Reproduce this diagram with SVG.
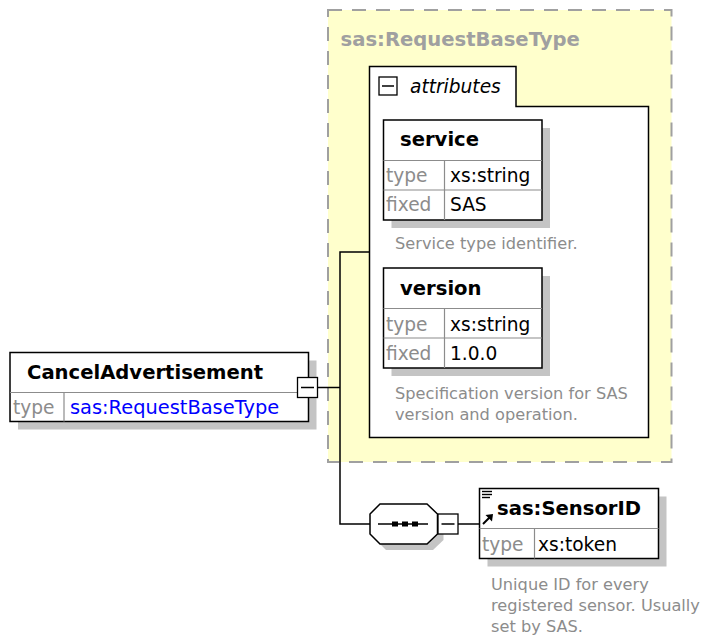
<svg xmlns="http://www.w3.org/2000/svg" width="701" height="638" viewBox="0 0 701 638">
  <defs>
    <style>
      .box { fill: #ffffff; stroke: #000000; stroke-width: 1.5; }
      .shadow { fill: #c4c4c4; }
      .div { stroke: #8c8c8c; stroke-width: 1.2; fill: none; }
      .wire { stroke: #000000; stroke-width: 1.5; fill: none; }
      .tog { fill: #ffffff; stroke: #000000; stroke-width: 1.3; }
      .hdr { font-family: "DejaVu Sans", Verdana, sans-serif; font-weight: bold; font-size: 19.6px; fill: #000000; }
      .grp { font-family: "DejaVu Sans", Verdana, sans-serif; font-weight: bold; font-size: 19.6px; fill: #a0a0a0; }
      .lbl { font-family: "DejaVu Sans", Verdana, sans-serif; font-size: 18.6px; fill: #8c8c8c; }
      .val { font-family: "DejaVu Sans", Verdana, sans-serif; font-size: 18.6px; fill: #000000; }
      .ref { font-family: "DejaVu Sans", Verdana, sans-serif; font-size: 19.4px; fill: #0000ff; }
      .doc { font-family: "DejaVu Sans", Verdana, sans-serif; font-size: 16.2px; fill: #8c8c8c; }
      .attr { font-family: "DejaVu Sans", Verdana, sans-serif; font-style: italic; font-size: 18.6px; fill: #000000; }
    </style>
  </defs>

  <rect width="701" height="638" fill="#ffffff"/>

  <!-- complex type container -->
  <g id="sas-RequestBaseType">
    <rect x="328" y="10" width="343.5" height="452" fill="#ffffcc" stroke="#a0a0a0" stroke-width="2" stroke-dasharray="14 10"/>
    <text class="grp" x="340.5" y="45.5">sas:RequestBaseType</text>
  </g>

  <!-- attributes panel -->
  <g id="attributes">
    <path class="box" d="M369.5,66.5 H516 V106.5 H648.5 V437.5 H369.5 Z"/>
    <rect class="tog" x="379" y="77" width="18" height="18"/>
    <line x1="382" y1="86" x2="394" y2="86" stroke="#000" stroke-width="1.5"/>
    <text class="attr" x="410" y="92.5">attributes</text>
  </g>

  <!-- attribute: service -->
  <g id="service">
    <rect class="shadow" x="391.5" y="128" width="158.5" height="100"/>
    <rect class="box" x="383.5" y="120" width="158.5" height="100"/>
    <line class="div" x1="383.5" y1="160.5" x2="542" y2="160.5"/>
    <line class="div" x1="383.5" y1="190" x2="542" y2="190"/>
    <line class="div" x1="444.5" y1="160.5" x2="444.5" y2="220"/>
    <text class="hdr" x="400" y="146">service</text>
    <text class="lbl" x="386" y="182">type</text>
    <text class="val" x="450" y="182">xs:string</text>
    <text class="lbl" x="386" y="211">fixed</text>
    <text class="val" x="450" y="211">SAS</text>
    <text class="doc" x="395" y="248.5">Service type identifier.</text>
  </g>

  <!-- attribute: version -->
  <g id="version">
    <rect class="shadow" x="391.5" y="276" width="158.5" height="100"/>
    <rect class="box" x="383.5" y="268" width="158.5" height="100"/>
    <line class="div" x1="383.5" y1="308.5" x2="542" y2="308.5"/>
    <line class="div" x1="383.5" y1="338" x2="542" y2="338"/>
    <line class="div" x1="444.5" y1="308.5" x2="444.5" y2="368"/>
    <text class="hdr" x="400" y="295">version</text>
    <text class="lbl" x="386" y="331">type</text>
    <text class="val" x="450" y="331">xs:string</text>
    <text class="lbl" x="386" y="360">fixed</text>
    <text class="val" x="450" y="360">1.0.0</text>
    <text class="doc" x="395" y="398.5">Specification version for SAS</text>
    <text class="doc" x="395" y="420">version and operation.</text>
  </g>

  <!-- connectors -->
  <g id="connectors">
    <polyline class="wire" points="318,387.5 340,387.5"/>
    <polyline class="wire" points="370,252 340,252 340,524 370,524"/>
    <line class="wire" x1="458" y1="524" x2="479.5" y2="524"/>
  </g>

  <!-- root element -->
  <g id="CancelAdvertisement">
    <rect class="shadow" x="18" y="360.5" width="298.5" height="69"/>
    <rect class="box" x="10" y="352.5" width="298.5" height="69"/>
    <line class="div" x1="10" y1="392.5" x2="308.5" y2="392.5"/>
    <line class="div" x1="64" y1="392.5" x2="64" y2="421.5"/>
    <text class="hdr" x="27" y="379">CancelAdvertisement</text>
    <text class="lbl" x="13" y="414">type</text>
    <text class="ref" x="70" y="414">sas:RequestBaseType</text>
    <rect class="tog" x="297.5" y="377.5" width="20" height="20"/>
    <line x1="301" y1="387.5" x2="314" y2="387.5" stroke="#000" stroke-width="1.5"/>
  </g>

  <!-- sequence compositor -->
  <g id="sequence">
    <polygon class="shadow" points="386,510 433,510 443.5,520 443.5,540 433,550 386,550 376,540 376,520"/>
    <polygon class="box" points="380,504 427,504 437.5,514 437.5,534 427,544 380,544 370,534 370,514"/>
    <line x1="378" y1="524" x2="428" y2="524" stroke="#000" stroke-width="1.5"/>
    <rect x="392" y="521.5" width="6" height="5" fill="#000"/>
    <rect x="402" y="521.5" width="6" height="5" fill="#000"/>
    <rect x="412" y="521.5" width="6" height="5" fill="#000"/>
    <rect class="tog" x="438" y="514" width="20" height="20"/>
    <line x1="441.5" y1="524" x2="454.5" y2="524" stroke="#000" stroke-width="1.5"/>
  </g>

  <!-- referenced element -->
  <g id="sas-SensorID">
    <rect class="shadow" x="487.5" y="496.5" width="179" height="70"/>
    <rect class="box" x="479.5" y="488.5" width="179" height="70"/>
    <line class="div" x1="479.5" y1="528.5" x2="658.5" y2="528.5"/>
    <line class="div" x1="534.5" y1="528.5" x2="534.5" y2="558.5"/>
    <g stroke="#000" stroke-width="1.4">
      <line x1="482" y1="491.5" x2="492" y2="491.5"/>
      <line x1="482" y1="494.5" x2="492" y2="494.5"/>
      <line x1="482" y1="497.5" x2="490" y2="497.5"/>
      <line x1="483" y1="524" x2="489.5" y2="517.5" stroke-width="2"/>
    </g>
    <polygon points="493,514 485.5,515 492,521.5" fill="#000"/>
    <text class="hdr" x="497" y="515">sas:SensorID</text>
    <text class="lbl" x="482" y="551">type</text>
    <text class="val" x="538" y="551">xs:token</text>
    <text class="doc" x="491" y="590">Unique ID for every</text>
    <text class="doc" x="491" y="611">registered sensor. Usually</text>
    <text class="doc" x="491" y="632">set by SAS.</text>
  </g>
</svg>
